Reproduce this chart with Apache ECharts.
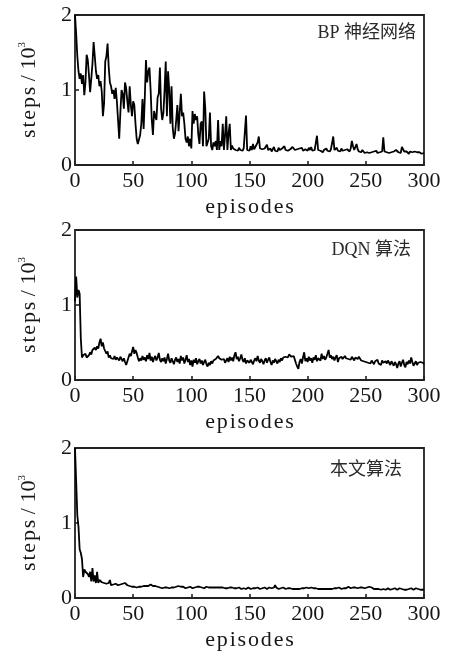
<!DOCTYPE html>
<html>
<head>
<meta charset="utf-8">
<script src="https://cdn.jsdelivr.net/npm/echarts@6/dist/echarts.min.js"></script>
<style>
html,body{margin:0;padding:0;background:#fff;}
#c{width:450px;height:655px;}
</style>
</head>
<body>
<div id="c"></div>
<script>
// steps / 10^3 per episode (index = episode 0..300)
var bpSteps = [
2.00,1.75,1.45,1.25,1.15,1.22,1.08,1.20,0.93,1.10,
1.47,1.40,1.20,0.97,1.15,1.35,1.64,1.45,1.25,1.15,
1.20,1.05,1.12,0.98,0.65,0.82,1.38,1.45,1.62,1.30,
1.10,1.05,0.95,1.00,0.88,1.03,0.85,0.60,0.35,0.70,
1.00,0.95,0.75,1.10,1.02,0.85,0.70,1.05,0.80,0.65,
0.85,0.80,0.55,0.35,0.28,0.30,0.40,0.55,0.88,0.48,
0.90,1.40,1.10,1.25,1.30,1.00,0.60,0.40,0.72,0.65,
0.60,0.90,0.95,1.30,0.75,0.60,0.70,1.00,1.38,0.65,
1.25,1.00,0.55,1.05,0.50,0.35,0.42,0.60,0.80,0.45,
0.70,0.95,0.65,0.70,0.55,0.35,0.30,0.38,0.25,0.35,
0.22,0.72,0.55,0.68,0.60,0.65,0.40,0.28,0.55,0.58,
0.25,0.98,0.75,0.25,0.30,0.35,0.70,0.25,0.20,0.30,
0.25,0.32,0.20,0.60,0.20,0.32,0.25,0.55,0.20,0.40,
0.65,0.20,0.42,0.55,0.20,0.26,0.22,0.24,0.20,0.22,
0.19,0.23,0.20,0.21,0.19,0.22,0.20,0.66,0.20,0.22,
0.19,0.25,0.20,0.28,0.21,0.24,0.22,0.30,0.38,0.22,
0.20,0.21,0.19,0.22,0.20,0.27,0.20,0.19,0.22,0.18,
0.21,0.24,0.19,0.20,0.18,0.23,0.20,0.19,0.22,0.21,
0.25,0.20,0.22,0.19,0.18,0.21,0.20,0.24,0.26,0.20,
0.18,0.21,0.19,0.22,0.20,0.23,0.19,0.18,0.21,0.20,
0.19,0.23,0.20,0.24,0.19,0.18,0.20,0.22,0.39,0.20,
0.18,0.19,0.21,0.17,0.20,0.18,0.22,0.19,0.20,0.18,
0.21,0.19,0.38,0.20,0.18,0.23,0.19,0.21,0.18,0.22,
0.19,0.17,0.20,0.18,0.21,0.19,0.18,0.22,0.32,0.25,
0.20,0.22,0.28,0.21,0.18,0.19,0.17,0.20,0.18,0.16,
0.18,0.17,0.19,0.16,0.18,0.17,0.16,0.18,0.17,0.19,
0.16,0.18,0.17,0.19,0.18,0.37,0.18,0.16,0.17,0.19,
0.16,0.18,0.17,0.16,0.18,0.17,0.20,0.22,0.17,0.19,
0.16,0.24,0.22,0.18,0.16,0.18,0.17,0.15,0.18,0.16,
0.17,0.15,0.18,0.16,0.17,0.15,0.17,0.16,0.15,0.17,
0.16
];
var dqnSteps = [
1.05,1.38,1.10,1.20,1.15,0.55,0.30,0.33,0.32,0.35,
0.30,0.28,0.33,0.37,0.34,0.40,0.38,0.43,0.40,0.45,
0.42,0.50,0.55,0.45,0.50,0.42,0.40,0.35,0.38,0.30,
0.33,0.29,0.31,0.28,0.32,0.27,0.30,0.28,0.26,0.31,
0.28,0.25,0.29,0.24,0.20,0.25,0.30,0.35,0.32,0.38,
0.44,0.35,0.40,0.36,0.30,0.25,0.29,0.26,0.32,0.27,
0.30,0.25,0.33,0.28,0.36,0.26,0.31,0.24,0.29,0.32,
0.26,0.30,0.36,0.27,0.24,0.29,0.25,0.30,0.22,0.28,
0.35,0.26,0.23,0.29,0.25,0.21,0.27,0.30,0.24,0.28,
0.22,0.32,0.26,0.30,0.22,0.27,0.33,0.24,0.28,0.20,
0.26,0.18,0.27,0.23,0.29,0.21,0.25,0.28,0.22,0.26,
0.20,0.24,0.27,0.21,0.18,0.23,0.20,0.25,0.22,0.26,
0.24,0.28,0.30,0.32,0.29,0.31,0.27,0.25,0.28,0.23,
0.26,0.29,0.24,0.31,0.26,0.30,0.25,0.33,0.37,0.28,
0.31,0.25,0.29,0.34,0.27,0.24,0.29,0.22,0.26,0.28,
0.23,0.27,0.24,0.21,0.26,0.29,0.25,0.32,0.26,0.23,
0.28,0.25,0.21,0.26,0.29,0.23,0.27,0.30,0.24,0.20,
0.26,0.23,0.28,0.25,0.22,0.27,0.24,0.29,0.26,0.30,
0.28,0.31,0.33,0.30,0.34,0.33,0.31,0.29,0.32,0.27,
0.22,0.18,0.15,0.24,0.28,0.22,0.30,0.37,0.25,0.29,
0.24,0.31,0.26,0.29,0.23,0.30,0.27,0.33,0.25,0.29,
0.31,0.26,0.35,0.28,0.32,0.27,0.30,0.35,0.40,0.30,
0.33,0.28,0.31,0.26,0.30,0.33,0.24,0.29,0.27,0.31,
0.28,0.30,0.32,0.29,0.31,0.28,0.30,0.27,0.31,0.29,
0.26,0.30,0.32,0.28,0.31,0.29,0.26,0.28,0.25,0.27,
0.24,0.26,0.23,0.25,0.22,0.26,0.24,0.21,0.25,0.23,
0.27,0.22,0.24,0.20,0.26,0.23,0.21,0.25,0.22,0.26,
0.24,0.20,0.25,0.22,0.19,0.24,0.21,0.16,0.22,0.25,
0.18,0.23,0.27,0.20,0.17,0.24,0.21,0.26,0.22,0.30,
0.24,0.19,0.22,0.25,0.20,0.23,0.21,0.24,0.22,0.23,
0.21
];
var oursSteps = [
2.00,1.55,1.10,0.95,0.65,0.60,0.52,0.28,0.38,0.35,
0.37,0.32,0.28,0.35,0.22,0.40,0.22,0.30,0.20,0.35,
0.20,0.24,0.22,0.21,0.23,0.20,0.22,0.19,0.21,0.20,
0.24,0.17,0.19,0.18,0.17,0.19,0.18,0.17,0.19,0.18,
0.17,0.19,0.18,0.20,0.21,0.17,0.15,0.16,0.17,0.15,
0.16,0.15,0.17,0.14,0.16,0.15,0.17,0.15,0.14,0.16,
0.15,0.16,0.17,0.16,0.17,0.18,0.18,0.16,0.15,0.16,
0.14,0.15,0.16,0.14,0.15,0.13,0.15,0.14,0.16,0.14,
0.15,0.13,0.15,0.14,0.16,0.14,0.13,0.15,0.14,0.16,
0.14,0.15,0.13,0.15,0.14,0.13,0.15,0.14,0.13,0.15,
0.14,0.13,0.15,0.14,0.13,0.15,0.14,0.15,0.13,0.14,
0.15,0.13,0.14,0.15,0.16,0.14,0.13,0.14,0.13,0.14,
0.13,0.14,0.13,0.14,0.12,0.14,0.13,0.14,0.12,0.13,
0.14,0.13,0.12,0.14,0.13,0.14,0.12,0.13,0.15,0.13,
0.12,0.14,0.13,0.12,0.14,0.13,0.14,0.12,0.13,0.14,
0.13,0.12,0.14,0.13,0.15,0.13,0.12,0.14,0.13,0.12,
0.14,0.13,0.12,0.14,0.13,0.12,0.13,0.14,0.12,0.13,
0.15,0.14,0.17,0.14,0.13,0.12,0.14,0.13,0.12,0.14,
0.13,0.12,0.14,0.13,0.12,0.13,0.14,0.12,0.13,0.12,
0.14,0.12,0.13,0.12,0.14,0.13,0.12,0.13,0.12,0.14,
0.12,0.13,0.12,0.14,0.12,0.13,0.12,0.13,0.14,0.12,
0.13,0.12,0.14,0.12,0.13,0.12,0.13,0.12,0.14,0.12,
0.13,0.12,0.14,0.13,0.12,0.13,0.12,0.14,0.13,0.12,
0.14,0.13,0.15,0.13,0.14,0.15,0.14,0.13,0.15,0.14,
0.16,0.14,0.15,0.13,0.15,0.14,0.16,0.14,0.15,0.13,
0.15,0.14,0.16,0.15,0.13,0.14,0.13,0.12,0.14,0.12,
0.13,0.12,0.13,0.11,0.13,0.12,0.13,0.11,0.12,0.13,
0.12,0.11,0.13,0.12,0.11,0.13,0.12,0.11,0.12,0.13,
0.11,0.12,0.13,0.11,0.12,0.11,0.13,0.12,0.11,0.13,
0.12,0.11,0.12,0.13,0.11,0.12,0.13,0.11,0.12,0.11,
0.12
];
var xTicks = [0, 50, 100, 150, 200, 250, 300];
var yTicks = [0, 1, 2];
var panelLabels = ['BP 神经网络', 'DQN 算法', '本文算法'];
var xName = 'episodes';
var yNameWord = 'steps';
var yNameRest = ' / 10';
var yNameSup = '3';

var seriesData = [bpSteps, dqnSteps, oursSteps];
var gridTops = [15, 230, 448];
var labelPos = [[416, 33], [411, 250], [402, 470]];
var serif = '"Liberation Serif", "Times New Roman", serif';
var textColor = '#161616';
var hair = '\u200a';
function spaced(s) { return s.split('').join(hair); }

var grids = [], xAxes = [], yAxes = [], series = [], graphics = [];
for (var i = 0; i < 3; i++) {
  grids.push({left: 75, width: 349, top: gridTops[i], height: 150, show: true,
    borderColor: '#222', borderWidth: 1.8, backgroundColor: 'transparent'});
  xAxes.push({type: 'value', gridIndex: i, min: xTicks[0], max: xTicks[xTicks.length - 1],
    interval: xTicks[1] - xTicks[0],
    name: spaced(xName), nameLocation: 'middle', nameGap: 31,
    nameTextStyle: {fontFamily: serif, fontSize: 22, color: textColor},
    axisLine: {show: false},
    axisTick: {show: true, inside: true, length: 4, lineStyle: {color: '#222', width: 1.6}},
    splitLine: {show: false},
    axisLabel: {fontFamily: serif, fontSize: 22, color: textColor, margin: 5}
  });
  yAxes.push({type: 'value', gridIndex: i, min: yTicks[0], max: yTicks[yTicks.length - 1],
    interval: yTicks[1] - yTicks[0],
    name: spaced(yNameWord) + yNameRest + '{s|' + yNameSup + '}', nameLocation: 'middle', nameGap: 34, nameRotate: 90,
    nameTextStyle: {fontFamily: serif, fontSize: 22, color: textColor, lineHeight: 24,
      rich: {s: {fontFamily: serif, fontSize: 11, color: textColor, verticalAlign: 'top', lineHeight: 24}}},
    axisLine: {show: false},
    axisTick: {show: true, inside: true, length: 4, lineStyle: {color: '#222', width: 1.6}},
    splitLine: {show: false},
    axisLabel: {fontFamily: serif, fontSize: 22, color: textColor, margin: 3}
  });
  series.push({type: 'line', xAxisIndex: i, yAxisIndex: i, showSymbol: false, symbol: 'none',
    data: seriesData[i].map(function (v, k) { return [k, v]; }),
    lineStyle: {color: '#000', width: 1.8}, silent: true, animation: false});
  graphics.push({type: 'text', x: labelPos[i][0], y: labelPos[i][1],
    style: {text: panelLabels[i], textAlign: 'right', textVerticalAlign: 'middle',
      font: '18px "Liberation Serif", "Noto Sans CJK SC", serif', fill: '#2a2a2a'}});
}

var chart = echarts.init(document.getElementById('c'), null, {renderer: 'canvas'});
chart.setOption({
  animation: false,
  backgroundColor: '#fff',
  grid: grids, xAxis: xAxes, yAxis: yAxes, series: series, graphic: graphics
});
</script>
</body>
</html>
